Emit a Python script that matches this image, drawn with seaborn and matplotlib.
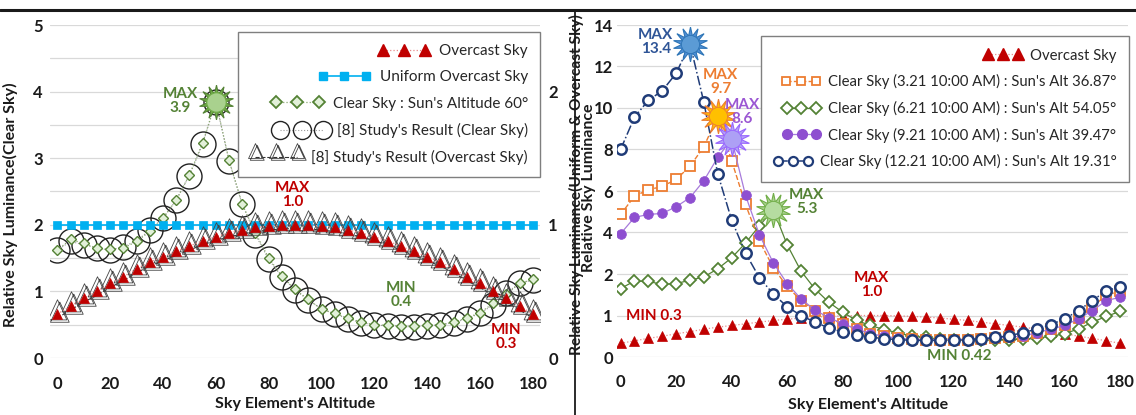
import numpy as np
import matplotlib
matplotlib.use("Agg")
import matplotlib.pyplot as plt
import seaborn as sns
from matplotlib.lines import Line2D
from matplotlib.path import Path

# ---------------- data ----------------
altitude = list(range(0, 181, 5))

# left panel (secondary axis: uniform & overcast)
overcast = [0.33, 0.39, 0.45, 0.50, 0.56, 0.61, 0.67, 0.72, 0.76, 0.80, 0.84, 0.88, 0.91,
            0.94, 0.96, 0.98, 0.99, 1.0, 1.0, 1.0, 0.99, 0.98, 0.96, 0.94, 0.91, 0.88,
            0.84, 0.80, 0.76, 0.72, 0.67, 0.61, 0.56, 0.50, 0.45, 0.39, 0.33]
uniform_overcast = [1.0] * 37
study_overcast = [0.30, 0.36, 0.42, 0.47, 0.53, 0.58, 0.64, 0.69, 0.73, 0.77, 0.81, 0.85, 0.88,
                  0.91, 0.93, 0.95, 0.96, 0.97, 0.97, 0.97, 0.96, 0.95, 0.93, 0.91, 0.88, 0.85,
                  0.81, 0.77, 0.73, 0.69, 0.64, 0.58, 0.53, 0.47, 0.42, 0.36, 0.30]
# left panel (primary axis: clear sky)
clear_60 = [1.62, 1.78, 1.72, 1.65, 1.63, 1.65, 1.75, 1.90, 2.10, 2.37, 2.75, 3.23, 3.85,
            2.97, 2.31, 1.88, 1.50, 1.23, 1.03, 0.88, 0.73, 0.67, 0.60, 0.54, 0.50, 0.49,
            0.48, 0.48, 0.49, 0.50, 0.54, 0.60, 0.68, 0.82, 0.96, 1.12, 1.18]
study_clear = [1.62, 1.75, 1.70, 1.65, 1.62, 1.67, 1.76, 1.92, 2.10, 2.37, 2.74, 3.21, 3.85,
               2.96, 2.31, 1.85, 1.48, 1.22, 1.02, 0.87, 0.74, 0.66, 0.59, 0.53, 0.50, 0.48,
               0.47, 0.47, 0.48, 0.50, 0.53, 0.59, 0.67, 0.80, 0.98, 1.12, 1.17]

# right panel
clear_0321 = [4.87, 5.75, 6.06, 6.22, 6.56, 7.19, 8.14, 9.6, 7.46, 5.35, 3.6, 2.3, 1.7, 1.36,
              1.12, 0.93, 0.80, 0.68, 0.56, 0.50, 0.45, 0.43, 0.42, 0.42, 0.42, 0.42, 0.43,
              0.45, 0.48, 0.50, 0.59, 0.67, 0.78, 0.95, 1.2, 1.5, 1.58]
clear_0621 = [1.65, 1.83, 1.82, 1.75, 1.77, 1.85, 1.93, 2.25, 2.78, 3.49, 4.32, 5.1, 3.41,
              2.14, 1.64, 1.32, 1.08, 0.88, 0.76, 0.66, 0.58, 0.50, 0.47, 0.43, 0.42, 0.42,
              0.42, 0.42, 0.42, 0.43, 0.45, 0.50, 0.56, 0.68, 0.84, 0.98, 1.10]
clear_0921 = [3.94, 4.73, 4.87, 4.92, 5.24, 5.68, 6.5, 7.62, 8.5, 5.79, 3.89, 2.54, 1.77, 1.40,
              1.13, 0.95, 0.80, 0.68, 0.56, 0.50, 0.45, 0.43, 0.42, 0.42, 0.42, 0.42, 0.43,
              0.45, 0.48, 0.50, 0.59, 0.67, 0.76, 0.92, 1.12, 1.36, 1.44]
clear_1221 = [8.0, 9.56, 10.37, 10.83, 11.67, 13.1, 10.27, 6.83, 4.6, 3.01, 1.91, 1.52, 1.21,
              1.0, 0.84, 0.70, 0.60, 0.54, 0.48, 0.44, 0.42, 0.40, 0.40, 0.40, 0.40, 0.42,
              0.44, 0.47, 0.51, 0.59, 0.67, 0.78, 0.92, 1.12, 1.36, 1.60, 1.69]

x_ticks = [0, 20, 40, 60, 80, 100, 120, 140, 160, 180]
left_yticks = [0, 1, 2, 3, 4, 5]
left_y2ticks = [0, 1, 2]
right_yticks = [0, 1, 2, 4, 6, 8, 10, 12, 14]

left_labels = ["Overcast Sky", "Uniform Overcast Sky", "Clear Sky : Sun's Altitude 60°",
               "[8] Study's Result (Clear Sky)", "[8] Study's Result (Overcast Sky)"]
right_labels = ["Overcast Sky",
                "Clear Sky (3.21 10:00 AM) : Sun's Alt 36.87°",
                "Clear Sky (6.21 10:00 AM) : Sun's Alt 54.05°",
                "Clear Sky (9.21 10:00 AM) : Sun's Alt 39.47°",
                "Clear Sky (12.21 10:00 AM) : Sun's Alt 19.31°"]

# ---------------- style ----------------
sns.set_theme(style="white")
plt.rcParams['font.family'] = ['Lato', 'DejaVu Sans']
plt.rcParams['axes.unicode_minus'] = False

RED = '#C00000'
RED_LINE = '#E88A8A'
CYAN = '#00B0F0'
GREEN = '#548235'
GREEN_L = '#E2F0D9'
ORANGE = '#ED7D31'
PURPLE = '#8E4FD0'
NAVY = '#203C78'
GRID = '#D9D9D9'
TXT = '#1a1a1a'

W, H = 1136, 415
fig = plt.figure(figsize=(W / 100, H / 100), dpi=100)


def box(l, t, r, b):
    return [l / W, 1 - b / H, (r - l) / W, (b - t) / H]


# custom hollow triangle (with a shadow) for the study overcast series
tri_verts = [(-1.0, -0.15), (1.0, -0.15), (0.0, 2.0), (-1.0, -0.15),
             (-0.75, -0.4), (1.25, -0.4), (0.25, 1.75), (-0.75, -0.4)]
tri_codes = [Path.MOVETO, Path.LINETO, Path.LINETO, Path.CLOSEPOLY] * 2
study_tri = Path(tri_verts, tri_codes)

# ================= LEFT PANEL =================
axL = fig.add_axes(box(50, 25, 540, 358))
axL2 = axL.twinx()

sns.lineplot(x=altitude, y=study_clear, ax=axL, color='#9a9a9a', lw=0.8, ls=':',
             marker='o', markersize=18, markerfacecolor='none', markeredgecolor='#222222',
             markeredgewidth=1.0, errorbar=None, sort=False, zorder=2)
sns.lineplot(x=altitude, y=clear_60, ax=axL, color='#8aa870', lw=0.9, ls=':',
             marker='D', markersize=5, markerfacecolor=GREEN_L, markeredgecolor=GREEN,
             markeredgewidth=1.0, errorbar=None, sort=False, zorder=3)
i60 = int(np.argmax(clear_60))
axL.plot([altitude[i60]], [clear_60[i60]], marker=(14, 1, 0), ms=25, mfc='#70AD47',
         mec=GREEN, mew=0.8, ls='none', zorder=6)
axL.plot([altitude[i60]], [clear_60[i60]], marker='o', ms=14, mfc='#A9D18E',
         mec='#70AD47', mew=0.8, ls='none', zorder=7)

axL.set_xlim(-2.76, 182.7)
axL.set_ylim(0, 5)
axL.set_yticks(left_yticks)
axL.set_yticks(np.arange(0.5, 5, 1.0), minor=True)
axL.set_yticklabels([str(t) for t in left_yticks])
axL.set_xticks(x_ticks)
axL.set_xticklabels([str(t) for t in x_ticks])
axL.grid(True, axis='y', which='both', color=GRID, lw=0.9)
axL.grid(False, axis='x')
axL.set_axisbelow(True)

sns.lineplot(x=altitude, y=uniform_overcast, ax=axL2, color=CYAN, lw=1.2, ls='-',
             marker='s', markersize=5.5, markerfacecolor=CYAN, markeredgecolor=CYAN,
             markeredgewidth=0.5, errorbar=None, sort=False, zorder=2)
sns.lineplot(x=altitude, y=study_overcast, ax=axL2, color='#333333', lw=0.8, ls='--',
             marker=study_tri, markersize=27, markerfacecolor='none', markeredgecolor='#444444',
             markeredgewidth=0.6, errorbar=None, sort=False, zorder=3)
sns.lineplot(x=altitude, y=overcast, ax=axL2, color=RED_LINE, lw=0.9, ls=':',
             marker='^', markersize=7.5, markerfacecolor=RED, markeredgecolor=RED,
             markeredgewidth=0.5, errorbar=None, sort=False, zorder=4)
axL2.set_ylim(0, 2.5)
axL2.set_yticks(left_y2ticks)
axL2.set_yticklabels([str(t) for t in left_y2ticks])
axL2.grid(False)

for a in (axL, axL2):
    for s in a.spines.values():
        s.set_visible(False)
    a.tick_params(axis='both', which='both', length=0, labelsize=12, colors=TXT)
    for lab in a.get_xticklabels() + a.get_yticklabels():
        lab.set_fontweight('bold')
axL.tick_params(axis='x', pad=13)
axL.tick_params(axis='y', pad=5)
axL2.tick_params(axis='y', pad=6)

axL.set_xlabel("Sky Element's Altitude", fontsize=11.5, fontweight='bold', color=TXT)
axL.xaxis.set_label_coords(0.5, -0.118)
axL.set_ylabel("Relative Sky Luminance(Clear Sky)", fontsize=11.5, fontweight='bold', color=TXT)
axL.yaxis.set_label_coords(-0.066, 0.46)
axL2.set_ylabel("Relative Sky Luminance(Uniform & Overcast Sky)", fontsize=11.2,
                fontweight='bold', color=TXT)
axL2.yaxis.set_label_coords(1.059, 0.52)

# annotations (left)
axL.text(46.5, 3.86, "MAX\n3.9", color=GREEN, fontsize=11, fontweight='bold',
         ha='center', va='center', linespacing=1.0, zorder=8)
axL.text(89, 2.45, "MAX\n1.0", color=RED, fontsize=11, fontweight='bold',
         ha='center', va='center', linespacing=1.0, zorder=8)
axL.text(130, 0.94, "MIN\n0.4", color=GREEN, fontsize=11, fontweight='bold',
         ha='center', va='center', linespacing=1.0, zorder=8)
axL.text(170, 0.31, "MIN\n0.3", color=RED, fontsize=11, fontweight='bold',
         ha='center', va='center', linespacing=1.0, zorder=8)

hL = [
    Line2D([], [], color=RED_LINE, lw=0.9, ls=':', marker='^', ms=8, mfc=RED, mec=RED),
    Line2D([], [], color=CYAN, lw=1.2, ls='-', marker='s', ms=5.5, mfc=CYAN, mec=CYAN),
    Line2D([], [], color='#8aa870', lw=0.9, ls=':', marker='D', ms=6.5, mfc=GREEN_L,
           mec=GREEN, mew=1.3),
    Line2D([], [], color='#9a9a9a', lw=0.8, ls=':', marker='o', ms=13, mfc='none',
           mec='#222222', mew=1.0),
    Line2D([], [], color='#333333', lw=0.8, ls='--', marker=study_tri, ms=20, mfc='none',
           mec='#444444', mew=0.6),
]
legL = axL2.legend(hL, left_labels, loc='upper right', bbox_to_anchor=(540 / W, 1 - 32 / H),
                   bbox_transform=fig.transFigure, frameon=True, fancybox=False,
                   edgecolor='#7F7F7F', framealpha=1, fontsize=11, numpoints=3,
                   handlelength=3.4, labelspacing=0.8, borderpad=0.8, handletextpad=0.6,
                   borderaxespad=0)
legL.get_frame().set_linewidth(1.0)
try:
    for col in legL._legend_handle_box.get_children():
        col.align = "right"
except Exception:
    pass

# ================= RIGHT PANEL =================
axR = fig.add_axes(box(617, 25, 1128, 357))


def fwd(v):
    v = np.asarray(v, dtype=float)
    return np.where(v <= 2, 2 * v, v + 2)


def inv(f):
    f = np.asarray(f, dtype=float)
    return np.where(f <= 4, f / 2, f - 2)


axR.set_yscale('function', functions=(fwd, inv))

sns.lineplot(x=altitude, y=overcast, ax=axR, color=RED_LINE, lw=0.9, ls=':',
             marker='^', markersize=7.5, markerfacecolor=RED, markeredgecolor=RED,
             markeredgewidth=0.5, errorbar=None, sort=False, zorder=2)
sns.lineplot(x=altitude, y=clear_0621, ax=axR, color=GREEN, lw=0.9, ls='-',
             marker='D', markersize=6.5, markerfacecolor='white', markeredgecolor=GREEN,
             markeredgewidth=1.3, errorbar=None, sort=False, zorder=3)
sns.lineplot(x=altitude, y=clear_0321, ax=axR, color=ORANGE, lw=1.0, ls='--',
             marker='s', markersize=6.5, markerfacecolor='white', markeredgecolor=ORANGE,
             markeredgewidth=1.3, errorbar=None, sort=False, zorder=4)
sns.lineplot(x=altitude, y=clear_0921, ax=axR, color='#A77BDB', lw=0.9, ls='-',
             marker='o', markersize=7, markerfacecolor=PURPLE, markeredgecolor=PURPLE,
             markeredgewidth=0.5, errorbar=None, sort=False, zorder=5)
sns.lineplot(x=altitude, y=clear_1221, ax=axR, color=NAVY, lw=1.1, ls='-.',
             marker='o', markersize=7.5, markerfacecolor='white', markeredgecolor=NAVY,
             markeredgewidth=1.8, errorbar=None, sort=False, zorder=6)

suns = [(clear_1221, '#4F8FD6', '#2E75B6', '#5B9BD5'),
        (clear_0321, '#FFC000', ORANGE, '#FFC000'),
        (clear_0921, '#B4A6F5', '#9966FF', '#ADA0F5'),
        (clear_0621, '#A9D18E', '#70AD47', '#B5DCA0')]
for ser, fc, ec, cc in suns:
    k = int(np.argmax(ser))
    axR.plot([altitude[k]], [ser[k]], marker=(14, 1, 0), ms=25, mfc=fc, mec=ec, mew=0.8,
             ls='none', zorder=9)
    axR.plot([altitude[k]], [ser[k]], marker='o', ms=13, mfc=cc, mec=ec, mew=0.6,
             ls='none', zorder=10)

axR.set_xlim(-1.3, 182.8)
axR.set_ylim(0, 14)
axR.set_yticks(right_yticks)
axR.set_yticklabels([str(t) for t in right_yticks])
axR.yaxis.set_minor_locator(matplotlib.ticker.NullLocator())
axR.set_xticks(x_ticks)
axR.set_xticklabels([str(t) for t in x_ticks])
axR.grid(True, axis='y', color=GRID, lw=0.9)
axR.grid(False, axis='x')
axR.set_axisbelow(True)
for s in axR.spines.values():
    s.set_visible(False)
axR.tick_params(axis='both', which='both', length=0, labelsize=12, colors=TXT)
for lab in axR.get_xticklabels() + axR.get_yticklabels():
    lab.set_fontweight('bold')
axR.tick_params(axis='x', pad=12)
axR.tick_params(axis='y', pad=3)

axR.set_xlabel("Sky Element's Altitude", fontsize=11.5, fontweight='bold', color=TXT)
axR.xaxis.set_label_coords(0.491, -0.123)
axR.set_ylabel("Relative Sky Luminance", fontsize=11.5, fontweight='bold', color=TXT)
axR.yaxis.set_label_coords(-0.041, 0.51)

axR.text(12.7, 13.2, "MAX\n13.4", color='#2F5597', fontsize=11, fontweight='bold',
         ha='center', va='center', linespacing=1.0, zorder=11)
axR.text(36.1, 11.25, "MAX\n9.7", color=ORANGE, fontsize=11, fontweight='bold',
         ha='center', va='center', linespacing=1.0, zorder=11)
axR.text(43.8, 9.8, "MAX\n8.6", color='#9B57D3', fontsize=11, fontweight='bold',
         ha='center', va='center', linespacing=1.0, zorder=11)
axR.text(67, 5.47, "MAX\n5.3", color=GREEN, fontsize=11, fontweight='bold',
         ha='center', va='center', linespacing=1.0, zorder=11)
axR.text(90.5, 1.73, "MAX\n1.0", color=RED, fontsize=11, fontweight='bold',
         ha='center', va='center', linespacing=1.0, zorder=11)
axR.text(12.1, 0.99, "MIN 0.3", color=RED, fontsize=11, fontweight='bold',
         ha='center', va='center', zorder=11)
axR.text(122, 0.02, "MIN 0.42", color=GREEN, fontsize=11, fontweight='bold',
         ha='center', va='center', zorder=11)

hR = [
    Line2D([], [], color=RED_LINE, lw=0.9, ls=':', marker='^', ms=8, mfc=RED, mec=RED),
    Line2D([], [], color=ORANGE, lw=1.0, ls='--', marker='s', ms=6, mfc='white', mec=ORANGE,
           mew=1.3),
    Line2D([], [], color=GREEN, lw=0.9, ls='-', marker='D', ms=6.5, mfc='white', mec=GREEN,
           mew=1.3),
    Line2D([], [], color='#A77BDB', lw=0.9, ls='-', marker='o', ms=7, mfc=PURPLE, mec=PURPLE),
    Line2D([], [], color=NAVY, lw=1.1, ls='-.', marker='o', ms=6.5, mfc='white', mec=NAVY,
           mew=1.6),
]
legR = axR.legend(hR, right_labels, loc='upper right', bbox_to_anchor=(1129 / W, 1 - 36 / H),
                  bbox_transform=fig.transFigure, frameon=True, fancybox=False,
                  edgecolor='#7F7F7F', framealpha=1, fontsize=10.7, numpoints=3,
                  handlelength=2.6, labelspacing=0.78, borderpad=0.85, handletextpad=0.5,
                  borderaxespad=0)
legR.set_zorder(20)
legR.get_frame().set_linewidth(1.0)
try:
    for col in legR._legend_handle_box.get_children():
        col.align = "right"
except Exception:
    pass

# frame lines of the composite figure
fig.add_artist(Line2D([0, 1], [1 - 10 / H, 1 - 10 / H], transform=fig.transFigure,
                      color=TXT, lw=2.2))
fig.add_artist(Line2D([575 / W, 575 / W], [0, 1 - 10 / H], transform=fig.transFigure,
                      color=TXT, lw=1.3))

fig.savefig('out.png', dpi=100)
